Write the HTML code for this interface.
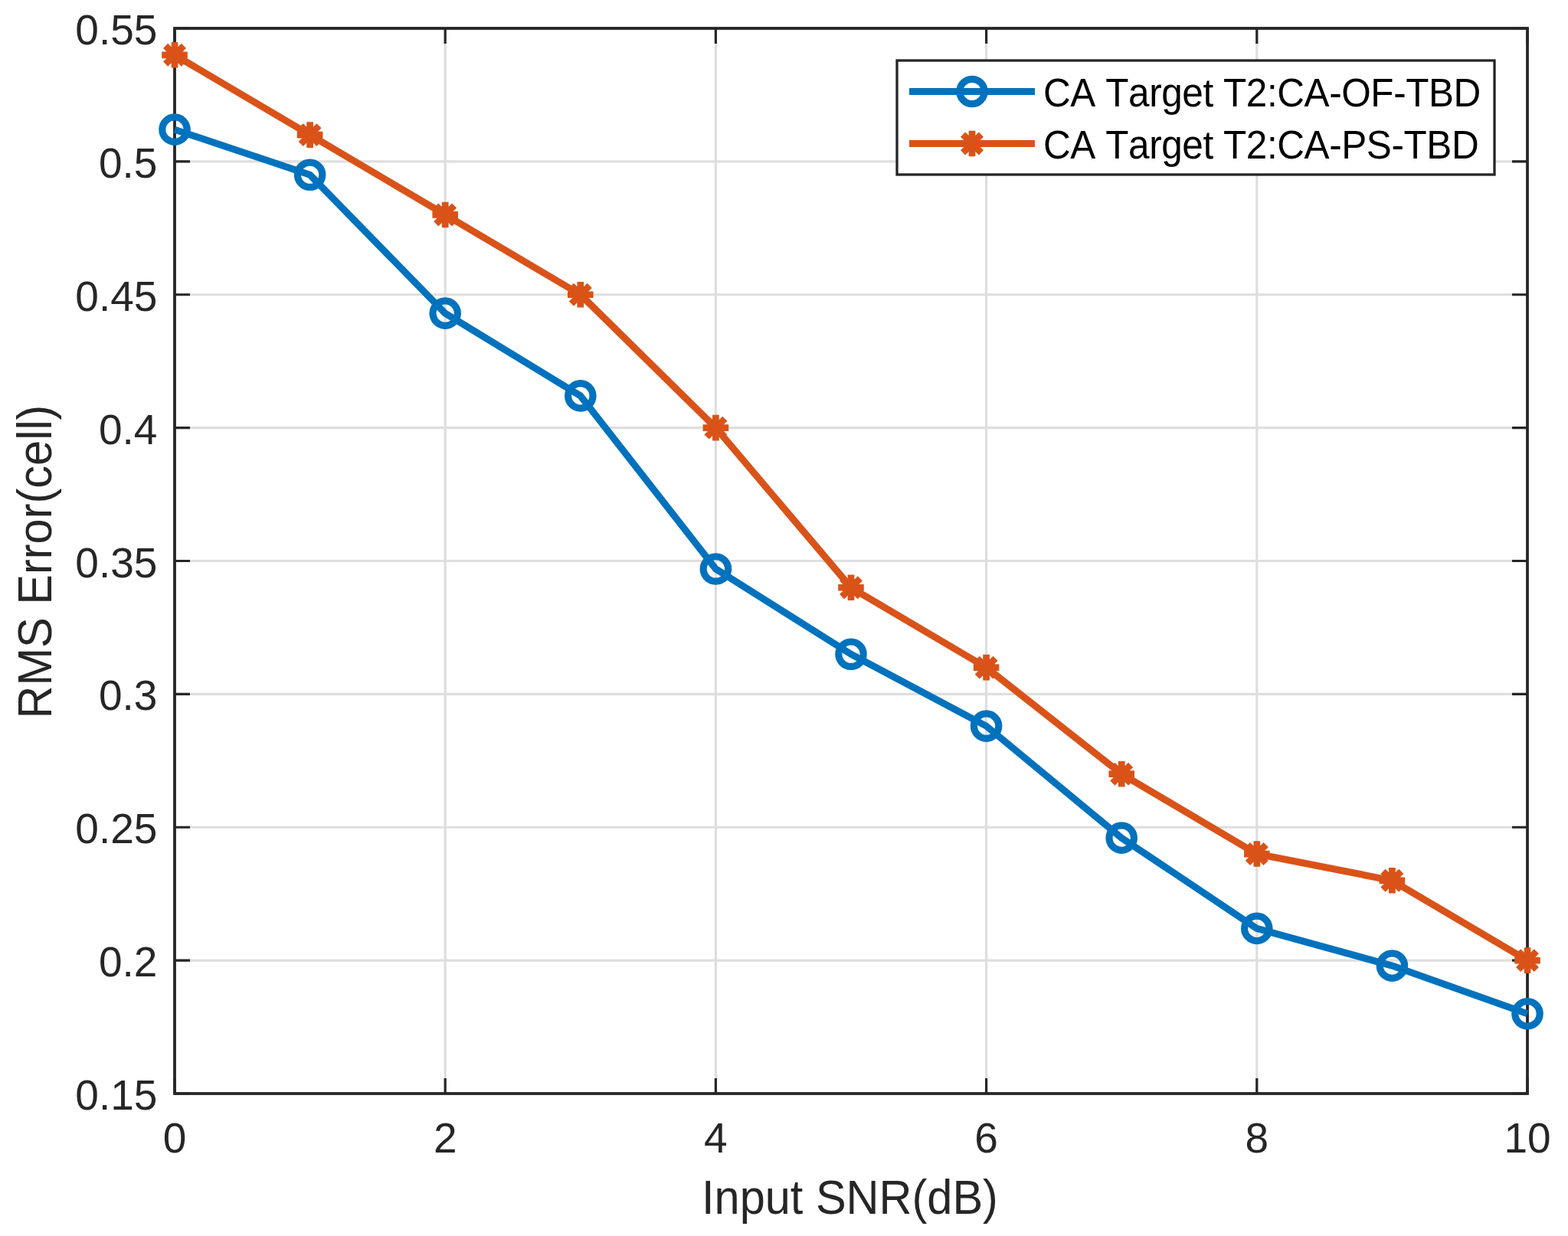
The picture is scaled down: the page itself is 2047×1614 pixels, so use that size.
<!DOCTYPE html><html><head><meta charset="utf-8"><title>RMS Error vs Input SNR</title><style>html,body{margin:0;padding:0;background:#fff;}svg{display:block;}text{font-family:"Liberation Sans", sans-serif;font-kerning:none;}</style></head><body>
<svg width="2047" height="1614" viewBox="0 0 2047 1614">
<rect x="0" y="0" width="2047" height="1614" fill="#fff"/>
<path d="M581.20 37.00V1428.00M934.40 37.00V1428.00M1287.60 37.00V1428.00M1640.80 37.00V1428.00M228.00 1254.12H1994.00M228.00 1080.25H1994.00M228.00 906.38H1994.00M228.00 732.50H1994.00M228.00 558.62H1994.00M228.00 384.75H1994.00M228.00 210.88H1994.00" stroke="#dedede" stroke-width="3.20" fill="none"/>
<path d="M228.00 1428.00V1408.00M228.00 37.00V57.00M581.20 1428.00V1408.00M581.20 37.00V57.00M934.40 1428.00V1408.00M934.40 37.00V57.00M1287.60 1428.00V1408.00M1287.60 37.00V57.00M1640.80 1428.00V1408.00M1640.80 37.00V57.00M1994.00 1428.00V1408.00M1994.00 37.00V57.00M228.00 1428.00H248.00M1994.00 1428.00H1974.00M228.00 1254.12H248.00M1994.00 1254.12H1974.00M228.00 1080.25H248.00M1994.00 1080.25H1974.00M228.00 906.38H248.00M1994.00 906.38H1974.00M228.00 732.50H248.00M1994.00 732.50H1974.00M228.00 558.62H248.00M1994.00 558.62H1974.00M228.00 384.75H248.00M1994.00 384.75H1974.00M228.00 210.88H248.00M1994.00 210.88H1974.00M228.00 37.00H248.00M1994.00 37.00H1974.00" stroke="#262626" stroke-width="3.20" fill="none"/>
<rect x="228.00" y="37.00" width="1766.00" height="1391.00" stroke="#262626" stroke-width="3.80" fill="none"/>
<polyline points="228.00,169.15 404.60,228.26 581.20,409.09 757.80,516.90 934.40,742.93 1111.00,854.21 1287.60,948.11 1464.20,1094.16 1640.80,1212.40 1817.40,1261.08 1994.00,1323.68" stroke="#0072BD" stroke-width="9.00" fill="none" stroke-linejoin="round"/>
<polyline points="228.00,71.78 404.60,176.10 581.20,280.43 757.80,384.75 934.40,558.62 1111.00,767.27 1287.60,871.60 1464.20,1010.70 1640.80,1115.03 1817.40,1149.80 1994.00,1254.12" stroke="#D95319" stroke-width="9.00" fill="none" stroke-linejoin="round"/>
<circle cx="228.00" cy="169.15" r="16.20" stroke="#0072BD" stroke-width="9.20" fill="none"/>
<circle cx="404.60" cy="228.26" r="16.20" stroke="#0072BD" stroke-width="9.20" fill="none"/>
<circle cx="581.20" cy="409.09" r="16.20" stroke="#0072BD" stroke-width="9.20" fill="none"/>
<circle cx="757.80" cy="516.90" r="16.20" stroke="#0072BD" stroke-width="9.20" fill="none"/>
<circle cx="934.40" cy="742.93" r="16.20" stroke="#0072BD" stroke-width="9.20" fill="none"/>
<circle cx="1111.00" cy="854.21" r="16.20" stroke="#0072BD" stroke-width="9.20" fill="none"/>
<circle cx="1287.60" cy="948.11" r="16.20" stroke="#0072BD" stroke-width="9.20" fill="none"/>
<circle cx="1464.20" cy="1094.16" r="16.20" stroke="#0072BD" stroke-width="9.20" fill="none"/>
<circle cx="1640.80" cy="1212.40" r="16.20" stroke="#0072BD" stroke-width="9.20" fill="none"/>
<circle cx="1817.40" cy="1261.08" r="16.20" stroke="#0072BD" stroke-width="9.20" fill="none"/>
<circle cx="1994.00" cy="1323.68" r="16.20" stroke="#0072BD" stroke-width="9.20" fill="none"/>
<path d="M211.20 71.78h33.60M228.00 54.98v33.60M216.12 59.90l23.76 23.76M216.12 83.65l23.76 -23.76" stroke="#D95319" stroke-width="8.70" fill="none" stroke-linecap="butt"/>
<path d="M387.80 176.10h33.60M404.60 159.30v33.60M392.72 164.22l23.76 23.76M392.72 187.98l23.76 -23.76" stroke="#D95319" stroke-width="8.70" fill="none" stroke-linecap="butt"/>
<path d="M564.40 280.43h33.60M581.20 263.63v33.60M569.32 268.55l23.76 23.76M569.32 292.30l23.76 -23.76" stroke="#D95319" stroke-width="8.70" fill="none" stroke-linecap="butt"/>
<path d="M741.00 384.75h33.60M757.80 367.95v33.60M745.92 372.87l23.76 23.76M745.92 396.63l23.76 -23.76" stroke="#D95319" stroke-width="8.70" fill="none" stroke-linecap="butt"/>
<path d="M917.60 558.62h33.60M934.40 541.83v33.60M922.52 546.75l23.76 23.76M922.52 570.50l23.76 -23.76" stroke="#D95319" stroke-width="8.70" fill="none" stroke-linecap="butt"/>
<path d="M1094.20 767.27h33.60M1111.00 750.48v33.60M1099.12 755.40l23.76 23.76M1099.12 779.15l23.76 -23.76" stroke="#D95319" stroke-width="8.70" fill="none" stroke-linecap="butt"/>
<path d="M1270.80 871.60h33.60M1287.60 854.80v33.60M1275.72 859.72l23.76 23.76M1275.72 883.48l23.76 -23.76" stroke="#D95319" stroke-width="8.70" fill="none" stroke-linecap="butt"/>
<path d="M1447.40 1010.70h33.60M1464.20 993.90v33.60M1452.32 998.82l23.76 23.76M1452.32 1022.58l23.76 -23.76" stroke="#D95319" stroke-width="8.70" fill="none" stroke-linecap="butt"/>
<path d="M1624.00 1115.03h33.60M1640.80 1098.23v33.60M1628.92 1103.15l23.76 23.76M1628.92 1126.90l23.76 -23.76" stroke="#D95319" stroke-width="8.70" fill="none" stroke-linecap="butt"/>
<path d="M1800.60 1149.80h33.60M1817.40 1133.00v33.60M1805.52 1137.92l23.76 23.76M1805.52 1161.68l23.76 -23.76" stroke="#D95319" stroke-width="8.70" fill="none" stroke-linecap="butt"/>
<path d="M1977.20 1254.12h33.60M1994.00 1237.33v33.60M1982.12 1242.25l23.76 23.76M1982.12 1266.00l23.76 -23.76" stroke="#D95319" stroke-width="8.70" fill="none" stroke-linecap="butt"/>
<g fill="#262626" font-size="55">
<text x="205.40" y="1449.00" text-anchor="end">0.15</text>
<text x="205.40" y="1275.12" text-anchor="end">0.2</text>
<text x="205.40" y="1101.25" text-anchor="end">0.25</text>
<text x="205.40" y="927.38" text-anchor="end">0.3</text>
<text x="205.40" y="753.50" text-anchor="end">0.35</text>
<text x="205.40" y="579.62" text-anchor="end">0.4</text>
<text x="205.40" y="405.75" text-anchor="end">0.45</text>
<text x="205.40" y="231.88" text-anchor="end">0.5</text>
<text x="205.40" y="58.00" text-anchor="end">0.55</text>
<text x="228.00" y="1505.20" text-anchor="middle">0</text>
<text x="581.20" y="1505.20" text-anchor="middle">2</text>
<text x="934.40" y="1505.20" text-anchor="middle">4</text>
<text x="1287.60" y="1505.20" text-anchor="middle">6</text>
<text x="1640.80" y="1505.20" text-anchor="middle">8</text>
<text x="1994.00" y="1505.20" text-anchor="middle">10</text>
</g>
<text transform="translate(1109.50 1584.8) scale(1 1.046)" fill="#262626" font-size="59.5" text-anchor="middle">Input SNR(dB)</text>
<text transform="translate(66.6 733.50) rotate(-90) scale(1 1.046)" fill="#262626" font-size="59.5" text-anchor="middle">RMS Error(cell)</text>
<rect x="1171.00" y="79.00" width="780.00" height="149.00" fill="#fff" stroke="#262626" stroke-width="3.3"/>
<path d="M1187 119.50H1351" stroke="#0072BD" stroke-width="9.00"/>
<circle cx="1269.00" cy="119.50" r="16.20" stroke="#0072BD" stroke-width="9.20" fill="none"/>
<path d="M1187 187.50H1351" stroke="#D95319" stroke-width="9.00"/>
<path d="M1252.20 187.50h33.60M1269.00 170.70v33.60M1257.12 175.62l23.76 23.76M1257.12 199.38l23.76 -23.76" stroke="#D95319" stroke-width="8.70" fill="none" stroke-linecap="butt"/>
<g fill="#000" font-size="49.5" letter-spacing="-0.42">
<text transform="translate(1362 138.7) scale(1 1.048)">CA Target T2:CA-OF-TBD</text>
<text transform="translate(1362 206.8) scale(1 1.048)">CA Target T2:CA-PS-TBD</text>
</g>
</svg></body></html>
